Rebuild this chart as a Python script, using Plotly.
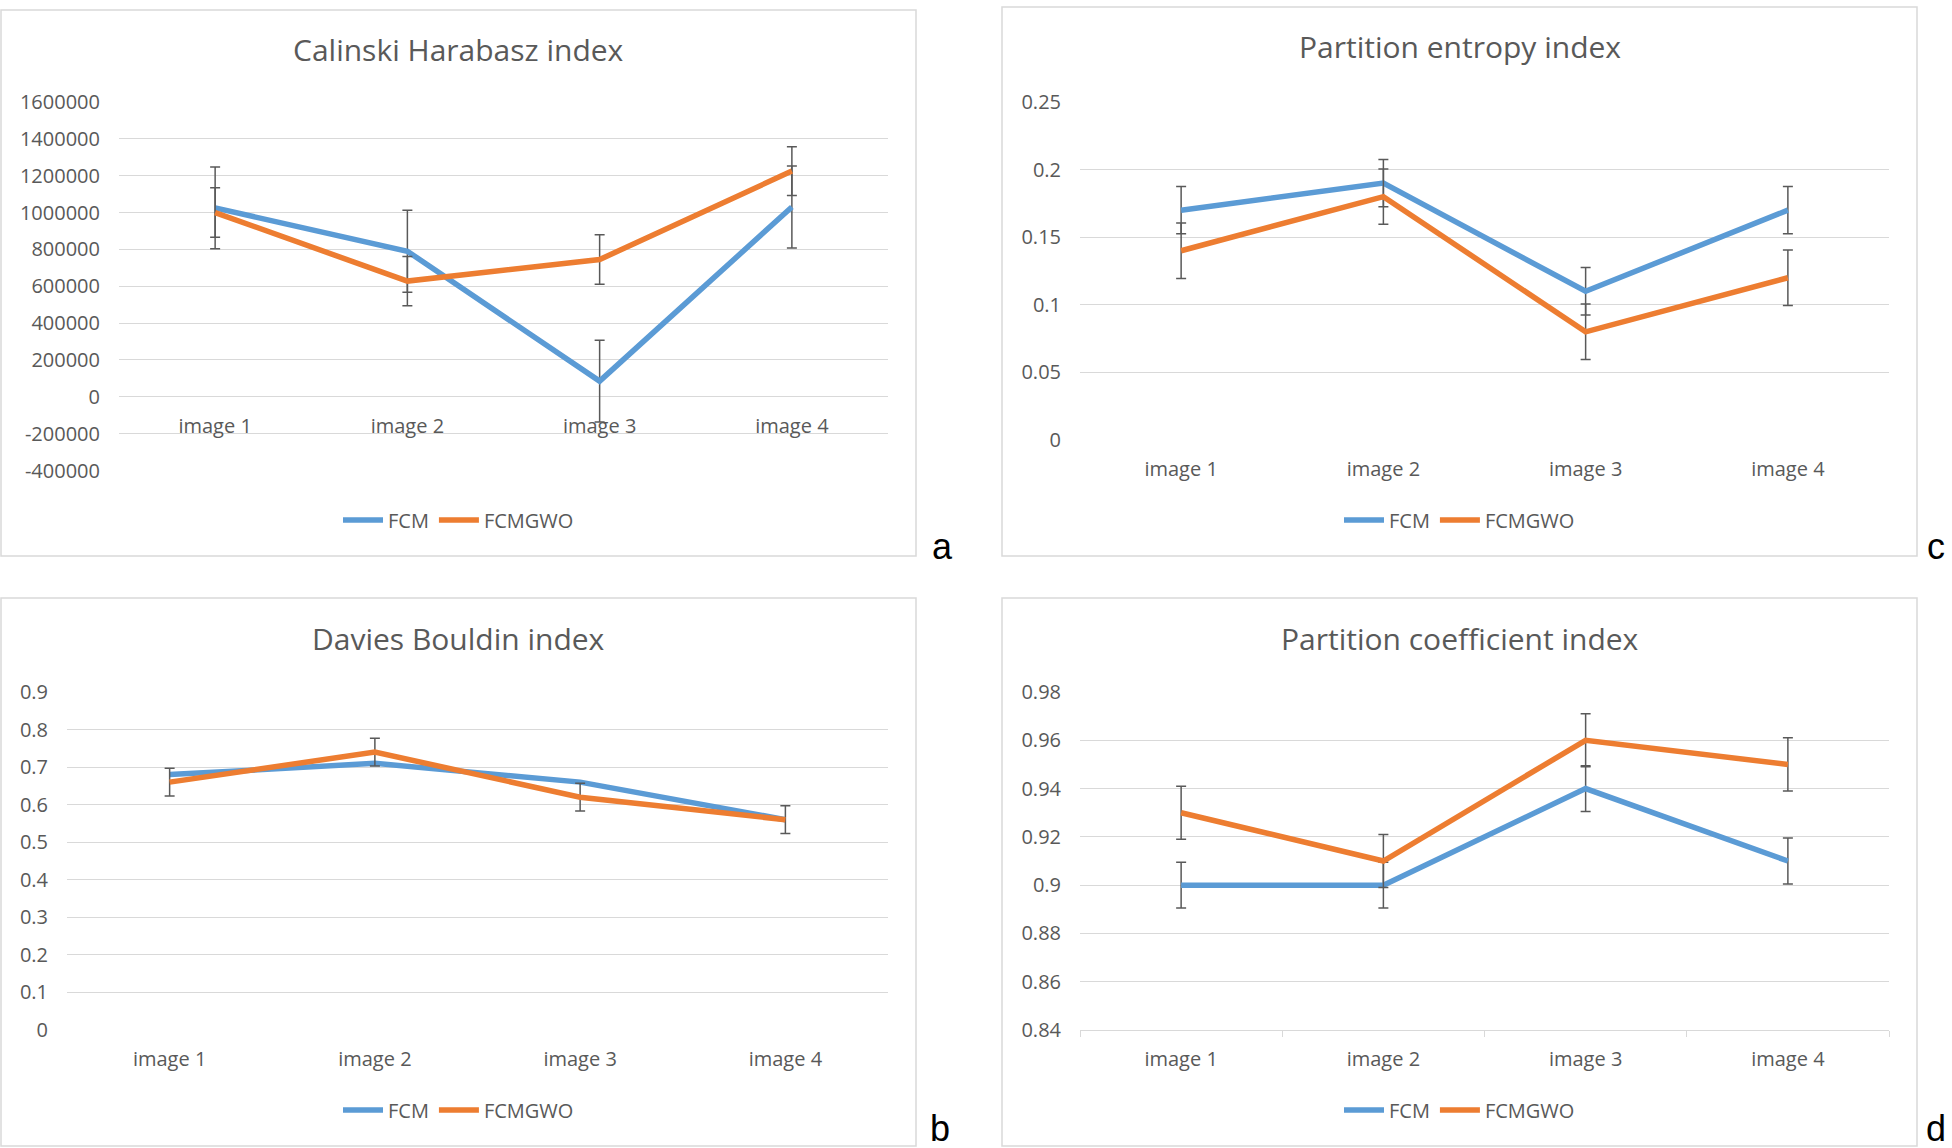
import plotly.graph_objects as go

W, H = 1952, 1148

categories = ['image 1', 'image 2', 'image 3', 'image 4']
series_names = ['FCM', 'FCMGWO']

# Calinski Harabasz index (panel a)
ch_fcm = [1025000, 790000, 85000, 1030000]
ch_fcmgwo = [1000000, 628000, 745000, 1225000]
ch_fcm_err = [222000, 222000, 222000, 222000]
ch_fcmgwo_err = [134000, 134000, 134000, 132000]
ch_ticks = [-400000, -200000, 0, 200000, 400000, 600000, 800000, 1000000, 1200000, 1400000, 1600000]

# Davies Bouldin index (panel b)
db_fcm = [0.68, 0.71, 0.66, 0.56]
db_fcmgwo = [0.66, 0.74, 0.62, 0.56]
db_fcmgwo_err = [0.037, 0.037, 0.037, 0.037]
db_ticks = [0, 0.1, 0.2, 0.3, 0.4, 0.5, 0.6, 0.7, 0.8, 0.9]

# Partition entropy index (panel c)
pe_fcm = [0.17, 0.19, 0.11, 0.17]
pe_fcmgwo = [0.14, 0.18, 0.08, 0.12]
pe_fcm_err = [0.0175, 0.0175, 0.0175, 0.0175]
pe_fcmgwo_err = [0.0205, 0.0205, 0.0205, 0.0205]
pe_ticks = [0, 0.05, 0.1, 0.15, 0.2, 0.25]

# Partition coefficient index (panel d)
pc_fcm = [0.90, 0.90, 0.94, 0.91]
pc_fcmgwo = [0.93, 0.91, 0.96, 0.95]
pc_fcm_err = [0.0095, 0.0095, 0.0095, 0.0095]
pc_fcmgwo_err = [0.011, 0.011, 0.011, 0.011]
pc_ticks = [0.84, 0.86, 0.88, 0.9, 0.92, 0.94, 0.96, 0.98]

blue = '#5B9BD5'
orange = '#ED7D31'
grid = '#D9D9D9'
text_col = '#595959'
err_col = '#595959'
font_fam = 'Open Sans, Liberation Sans, sans-serif'


def px(x):
    return x / W


def py(y):
    return 1 - y / H


def fmt(v):
    return ('%.2f' % v).rstrip('0').rstrip('.') if isinstance(v, float) else str(v)


# panel boxes (left, top, right, bottom) in pixels and plot areas
panels = {
    'a': dict(box=(1, 10, 916, 556), plot=(119, 102, 888, 470.5), title='Calinski Harabasz index',
              fcm=ch_fcm, gwo=ch_fcmgwo, fcm_err=ch_fcm_err, gwo_err=ch_fcmgwo_err, ticks=ch_ticks),
    'b': dict(box=(1, 598, 916, 1146), plot=(67, 692, 888, 1030), title='Davies Bouldin index',
              fcm=db_fcm, gwo=db_fcmgwo, fcm_err=None, gwo_err=db_fcmgwo_err, ticks=db_ticks),
    'c': dict(box=(1002, 7, 1917, 556), plot=(1080, 102, 1889, 440), title='Partition entropy index',
              fcm=pe_fcm, gwo=pe_fcmgwo, fcm_err=pe_fcm_err, gwo_err=pe_fcmgwo_err, ticks=pe_ticks),
    'd': dict(box=(1002, 598, 1917, 1146), plot=(1080, 692, 1889, 1030), title='Partition coefficient index',
              fcm=pc_fcm, gwo=pc_fcmgwo, fcm_err=pc_fcm_err, gwo_err=pc_fcmgwo_err, ticks=pc_ticks),
}
label_pos = {'a': (942, 546), 'b': (940, 1128), 'c': (1936, 546), 'd': (1936, 1128)}

fig = go.Figure()
shapes, annotations = [], []
layout = {}

for i, (key, p) in enumerate(panels.items()):
    n = i + 1
    sfx = '' if n == 1 else str(n)
    xa, ya = 'x' + sfx, 'y' + sfx
    leg = 'legend' + sfx
    l, t, r, b = p['plot']
    bl, bt, br, bb = p['box']
    ymin, ymax = p['ticks'][0], p['ticks'][-1]

    def err(arr):
        if arr is None:
            return None
        return dict(type='data', array=arr, color=err_col, thickness=1.5, width=5)

    fig.add_trace(go.Scatter(x=categories, y=p['fcm'], mode='lines', name='FCM',
                             line=dict(color=blue, width=5.5), error_y=err(p['fcm_err']),
                             xaxis=xa, yaxis=ya, legend=leg))
    fig.add_trace(go.Scatter(x=categories, y=p['gwo'], mode='lines', name='FCMGWO',
                             line=dict(color=orange, width=5.5), error_y=err(p['gwo_err']),
                             xaxis=xa, yaxis=ya, legend=leg))

    xdom = [px(l), px(r)]
    ydom = [py(b), py(t)]
    xaxis = dict(domain=xdom, anchor=ya, type='category', range=[-0.5, 3.5], showgrid=False,
                 tickfont=dict(family=font_fam, size=20, color=text_col), ticks='', showline=False,
                 ticklabelstandoff=15, automargin=False)
    if key == 'a':
        # labels sit next to the zero line
        zero_frac = (0 - ymin) / (ymax - ymin)
        xaxis['anchor'] = 'free'
        xaxis['position'] = ydom[0] + zero_frac * (ydom[1] - ydom[0])
    if key == 'd':
        xaxis.update(showline=True, linecolor=grid, linewidth=1.3, ticks='outside', tickson='boundaries',
                     ticklen=6, tickcolor=grid, tickwidth=1.3, ticklabelstandoff=11)
    yaxis = dict(domain=ydom, anchor=xa, range=[ymin, ymax], tickvals=p['ticks'],
                 ticktext=[fmt(v) for v in p['ticks']], showgrid=True, gridcolor=grid, gridwidth=1.3,
                 zeroline=False, showline=False, ticks='', ticklabelstandoff=18, automargin=False,
                 tickfont=dict(family=font_fam, size=20, color=text_col))
    layout['xaxis' + sfx] = xaxis
    layout['yaxis' + sfx] = yaxis

    cx = (bl + br) / 2
    layout[leg] = dict(orientation='h', x=px(cx), xanchor='center', y=py(bb - 36), yanchor='middle',
                       font=dict(family=font_fam, size=20, color=text_col), bgcolor='rgba(0,0,0,0)',
                       itemwidth=40, tracegroupgap=0)

    shapes.append(dict(type='rect', xref='paper', yref='paper', x0=px(bl), x1=px(br), y0=py(bb), y1=py(bt),
                       line=dict(color=grid, width=1.5), layer='below'))
    annotations.append(dict(text=p['title'], xref='paper', yref='paper', x=px(cx), y=py(bt + 40),
                            xanchor='center', yanchor='middle', showarrow=False,
                            font=dict(family=font_fam, size=30, color=text_col)))
    lx, lyy = label_pos[key]
    annotations.append(dict(text=key, xref='paper', yref='paper', x=px(lx), y=py(lyy), xanchor='center',
                            yanchor='middle', showarrow=False,
                            font=dict(family='Liberation Sans, Arial, sans-serif', size=36, color='black')))

fig.update_layout(
    width=W, height=H,
    margin=dict(l=0, r=0, t=0, b=0, autoexpand=False),
    plot_bgcolor='white', paper_bgcolor='white',
    shapes=shapes, annotations=annotations,
    **layout
)

# pin the figure to the window corner
fig.write_html(
    "out.html",
    config={'displayModeBar': False},
    post_script="document.body.style.margin='0';document.body.style.overflow='hidden';"
                "var g=document.getElementById('{plot_id}');g.style.position='absolute';"
                "g.style.top='0px';g.style.left='0px';",
)
